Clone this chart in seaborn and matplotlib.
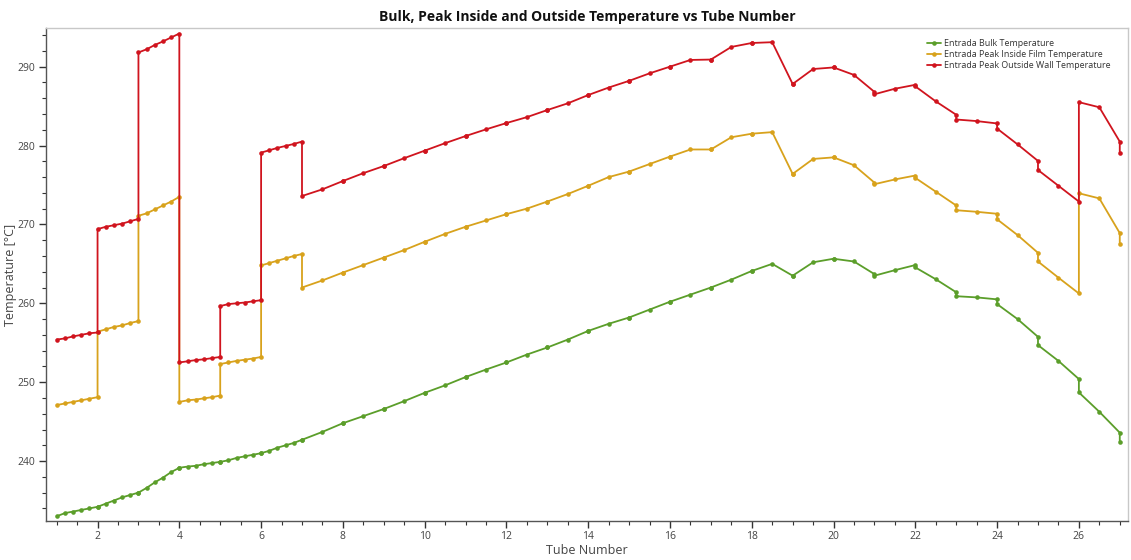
import numpy as np
import pandas as pd
import matplotlib
matplotlib.use("Agg")
import matplotlib.pyplot as plt
from matplotlib.ticker import MultipleLocator
import seaborn as sns

# Sampling stations along each tube (fraction of tube length)
stations_fine = [0.0, 0.2, 0.4, 0.6, 0.8, 1.0]    # tubes 1-6
stations_coarse = [0.0, 0.5, 1.0]                  # tubes 7-26
tubes = list(range(1, 27))

# Bulk temperature per tube [°C]
bulk = [
    [233.0, 233.4, 233.6, 233.8, 234.0, 234.2],
    [234.2, 234.6, 235.0, 235.4, 235.7, 236.0],
    [236.0, 236.6, 237.3, 237.9, 238.6, 239.15],
    [239.15, 239.3, 239.4, 239.6, 239.75, 239.9],
    [239.9, 240.1, 240.4, 240.6, 240.8, 241.0],
    [241.0, 241.3, 241.7, 242.0, 242.3, 242.7],
    [242.7, 243.7, 244.8],
    [244.8, 245.7, 246.6],
    [246.6, 247.6, 248.65],
    [248.65, 249.6, 250.65],
    [250.65, 251.6, 252.5],
    [252.5, 253.5, 254.4],
    [254.4, 255.4, 256.5],
    [256.5, 257.4, 258.2],
    [258.2, 259.2, 260.2],
    [260.2, 261.1, 262.0],
    [262.0, 263.0, 264.1],
    [264.1, 265.0, 263.5],
    [263.5, 265.2, 265.65],
    [265.65, 265.3, 263.7],
    [263.5, 264.2, 264.85],
    [264.55, 263.05, 261.4],
    [260.9, 260.75, 260.5],
    [259.9, 258.0, 255.75],
    [254.7, 252.7, 250.4],
    [248.7, 246.25, 243.6],
]

# Peak inside film temperature per tube [°C]
film = [
    [247.1, 247.3, 247.5, 247.7, 247.9, 248.1],
    [256.4, 256.7, 257.0, 257.2, 257.5, 257.75],
    [271.1, 271.4, 271.9, 272.4, 272.9, 273.5],
    [247.5, 247.7, 247.8, 247.95, 248.1, 248.3],
    [252.3, 252.5, 252.7, 252.85, 253.0, 253.2],
    [264.8, 265.1, 265.4, 265.7, 266.0, 266.25],
    [262.0, 262.9, 263.9],
    [263.9, 264.85, 265.8],
    [265.8, 266.75, 267.8],
    [267.8, 268.8, 269.7],
    [269.7, 270.5, 271.3],
    [271.3, 272.0, 272.9],
    [272.9, 273.85, 274.9],
    [274.9, 276.0, 276.7],
    [276.7, 277.65, 278.6],
    [278.6, 279.5, 279.5],
    [279.5, 281.05, 281.5],
    [281.5, 281.7, 276.4],
    [276.4, 278.3, 278.5],
    [278.5, 277.5, 275.3],
    [275.1, 275.7, 276.2],
    [275.9, 274.15, 272.4],
    [271.8, 271.6, 271.35],
    [270.65, 268.65, 266.4],
    [265.3, 263.25, 261.25],
    [273.95, 273.3, 268.9],
]

# Peak outside wall temperature per tube [°C]
wall = [
    [255.4, 255.55, 255.8, 256.0, 256.2, 256.3],
    [269.4, 269.7, 269.9, 270.1, 270.4, 270.7],
    [291.8, 292.2, 292.75, 293.2, 293.7, 294.2],
    [252.5, 252.65, 252.8, 252.9, 253.05, 253.2],
    [259.65, 259.9, 260.0, 260.1, 260.25, 260.4],
    [279.1, 279.4, 279.7, 279.95, 280.2, 280.5],
    [273.6, 274.45, 275.5],
    [275.5, 276.5, 277.4],
    [277.4, 278.4, 279.35],
    [279.35, 280.3, 281.2],
    [281.2, 282.05, 282.85],
    [282.85, 283.6, 284.5],
    [284.5, 285.35, 286.4],
    [286.4, 287.35, 288.2],
    [288.2, 289.15, 290.0],
    [290.0, 290.85, 290.9],
    [290.9, 292.5, 293.0],
    [293.0, 293.1, 287.8],
    [287.8, 289.7, 289.9],
    [289.9, 288.95, 286.8],
    [286.5, 287.2, 287.7],
    [287.5, 285.6, 283.9],
    [283.3, 283.1, 282.8],
    [282.15, 280.15, 278.05],
    [276.9, 274.9, 272.9],
    [285.5, 284.85, 280.5],
]

# Outlet values at the end of the last tube
outlet_x = 27.0
outlet_bulk = 242.45
outlet_film = 267.5
outlet_wall = 279.1

series_names = [
    "Entrada Bulk Temperature",
    "Entrada Peak Inside Film Temperature",
    "Entrada Peak Outside Wall Temperature",
]
series_colors = ["#5b9e2a", "#d8a21c", "#d0141e"]


def flatten(segments, outlet):
    xs, ys = [], []
    for tube, seg in zip(tubes, segments):
        st = stations_fine if len(seg) == len(stations_fine) else stations_coarse
        for s, v in zip(st, seg):
            xs.append(tube + s)
            ys.append(v)
    xs.append(outlet_x)
    ys.append(outlet)
    return xs, ys


frames = []
for name, segs, out in zip(series_names,
                           [bulk, film, wall],
                           [outlet_bulk, outlet_film, outlet_wall]):
    xs, ys = flatten(segs, out)
    frames.append(pd.DataFrame({"tube": xs, "temp": ys, "series": name,
                                "order": np.arange(len(xs))}))
df = pd.concat(frames, ignore_index=True)

sns.set_theme(style="white")
plt.rcParams["font.family"] = ["Open Sans", "DejaVu Sans"]

fig = plt.figure(figsize=(11.31, 5.6), dpi=100)
ax = fig.add_axes([0.0407, 0.0696, 0.9566, 0.8804])

for name, color in zip(series_names, series_colors):
    sub = df[df["series"] == name].sort_values("order")
    sns.lineplot(data=sub, x="tube", y="temp", ax=ax, estimator=None,
                 sort=False, color=color, label=name, linewidth=1.3,
                 marker="o", markersize=3.3, markeredgewidth=0,
                 markerfacecolor=color)

ax.set_xlim(0.74, 27.2)
ax.set_ylim(232.4, 294.9)

ax.xaxis.set_major_locator(MultipleLocator(2))
ax.xaxis.set_minor_locator(MultipleLocator(0.5))
ax.yaxis.set_major_locator(MultipleLocator(10))
ax.yaxis.set_minor_locator(MultipleLocator(2))
ax.tick_params(axis="both", which="major", direction="out", length=5,
               width=1.0, color="#333333", labelsize=7.5, labelcolor="#444444",
               bottom=True, left=True, pad=2.5)
ax.tick_params(axis="both", which="minor", direction="out", length=3,
               width=0.8, color="#333333", bottom=True, left=True)

for side in ["left", "bottom"]:
    ax.spines[side].set_color("#555555")
    ax.spines[side].set_linewidth(1.0)
for side in ["top", "right"]:
    ax.spines[side].set_color("#c8c8c8")
    ax.spines[side].set_linewidth(1.0)

ax.set_xlabel("Tube Number", fontsize=9, color="#444444", labelpad=1)
ax.set_ylabel("Temperature [°C]", fontsize=9, color="#444444")
ax.yaxis.set_label_coords(-0.0268, 0.5)
ax.set_title("Bulk, Peak Inside and Outside Temperature vs Tube Number",
             fontsize=10, fontweight="bold", color="#111111", pad=5)

leg = ax.legend(loc="upper right", bbox_to_anchor=(0.99, 0.99), frameon=False,
                fontsize=6.4, handlelength=1.6, handletextpad=0.4,
                labelspacing=0.2, borderaxespad=0.3)
for t in leg.get_texts():
    t.set_color("#333333")

fig.savefig("out.png", dpi=100)
